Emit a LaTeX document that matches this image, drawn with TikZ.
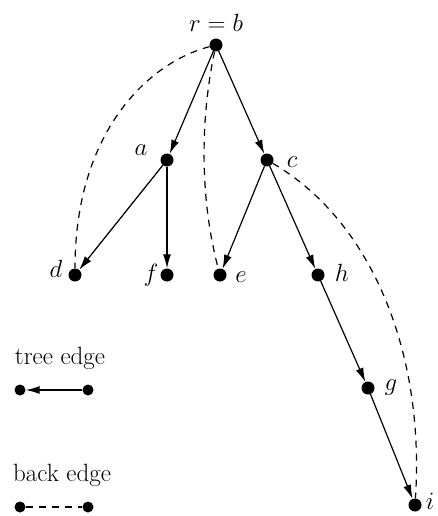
\documentclass[tikz,border=0pt]{standalone}
\usetikzlibrary{arrows.meta}
\begin{document}
\begin{tikzpicture}[x=1pt,y=-1pt,
 vtx/.style={circle,fill=black,inner sep=0pt,minimum size=13pt},
 svtx/.style={circle,fill=black,inner sep=0pt,minimum size=11pt},
 lbl/.style={font=\fontsize{25}{30}\selectfont,inner sep=0pt},
 tree/.style={line width=1.2pt,-{Latex[length=14pt,width=8pt]}},
 back/.style={line width=1.2pt,dash pattern=on 7pt off 6pt}]
\useasboundingbox (0,0) rectangle (438,516);
% vertices
\node[vtx] (r) at (216,45) {};
\node[vtx] (a) at (167,160) {};
\node[vtx] (c) at (267,160) {};
\node[vtx] (d) at (75,275) {};
\node[vtx] (f) at (167,275) {};
\node[vtx] (e) at (220,275) {};
\node[vtx] (h) at (318,275) {};
\node[vtx] (g) at (368,388) {};
\node[vtx] (i) at (415,505) {};
% labels
\node[lbl] (lr) at (216,23) {$r=b$};
\node[lbl] (la) at (141,150) {$a$};
\node[lbl] (lc) at (292,162) {$c$};
\node[lbl] (ld) at (56,269) {$d$};
\node[lbl] (lf) at (151,275) {$f$};
\node[lbl] (le) at (241,277) {$e$};
\node[lbl] (lh) at (342,273) {$h$};
\node[lbl] (lg) at (391,388) {$g$};
\node[lbl] (li) at (430,501) {$i$};
% tree edges
\draw[tree] (r) -- (a);
\draw[tree] (r) -- (c);
\draw[tree] (a) -- (d);
\draw[tree] (a) -- (f);
\draw[tree] (c) -- (e);
\draw[tree] (c) -- (h);
\draw[tree] (h) -- (g);
\draw[tree] (g) -- (i);
% back edges
\draw[back] (r) .. controls (150,62) and (75,130) .. (d);
\draw[back] (r) .. controls (200,120) and (200,200) .. (e);
\draw[back] (c) .. controls (370,220) and (425,350) .. (i);
% legend
\node[lbl] (tl) at (60,358) {tree edge};
\node[svtx] (t1) at (20,390) {};
\node[svtx] (t2) at (88,390) {};
\draw[tree] (t2) -- (t1);
\node[lbl] (bl) at (62,475) {back edge};
\node[svtx] (b1) at (20,507) {};
\node[svtx] (b2) at (88,507) {};
\draw[back] (b1) -- (b2);
\end{tikzpicture}
\end{document}
